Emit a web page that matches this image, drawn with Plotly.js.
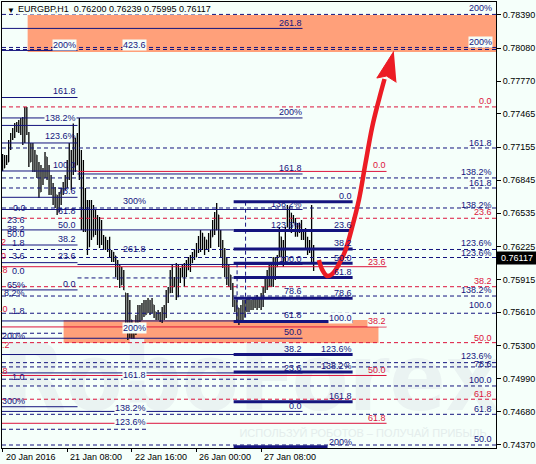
<!DOCTYPE html>
<html><head><meta charset="utf-8">
<script src="https://cdn.plot.ly/plotly-3.0.1.min.js"></script>
<style>html,body{margin:0;padding:0;background:#F5FFFA;}#chart{width:536px;height:464px;}</style>
</head><body><div id="chart"></div>
<script>
// ---- price bars (EURGBP H1) ----
const highs = [0.77090,0.77081,0.77081,0.77221,0.77287,0.77333,0.77380,0.77390,0.77408,0.77427,
 0.77436,0.77530,0.77530,0.77296,0.77193,0.77193,0.77128,0.77081,0.77015,0.76987,
 0.76959,0.77109,0.77062,0.76987,0.76894,0.76819,0.76782,0.76707,0.76735,0.76772,
 0.76828,0.76894,0.77034,0.77193,0.77128,0.77380,0.77240,0.77287,0.77427,0.77128,
 0.77034,0.76772,0.76660,0.76660,0.76660,0.76613,0.76567,0.76520,0.76501,0.76473,
 0.76333,0.76315,0.76286,0.76315,0.76193,0.76174,0.76137,0.76099,0.76052,0.76034,
 0.76006,0.75791,0.75791,0.75725,0.75538,0.75510,0.75585,0.75679,0.75679,0.75697,
 0.75725,0.75725,0.75744,0.75725,0.75744,0.75679,0.75613,0.75632,0.75613,0.75660,
 0.75679,0.75819,0.75847,0.76006,0.76052,0.75940,0.76071,0.76052,0.76024,0.76052,
 0.76071,0.76099,0.76127,0.76146,0.76174,0.76193,0.76258,0.76324,0.76380,0.76352,
 0.76315,0.76286,0.76352,0.76380,0.76473,0.76548,0.76632,0.76520,0.76380,0.76286,
 0.76212,0.76127,0.76052,0.75959,0.75884,0.75725,0.75725,0.75650,0.75679,0.75725,
 0.75725,0.75744,0.75744,0.75725,0.75753,0.75744,0.75772,0.75753,0.75791,0.75847,
 0.75940,0.76006,0.76052,0.76071,0.76127,0.76127,0.76146,0.76408,0.76315,0.76286,
 0.76408,0.76613,0.76595,0.76539,0.76520,0.76492,0.76445,0.76445,0.76473,0.76380,
 0.76399,0.76315,0.76286,0.76613,0.76239];
const lows = [0.76931,0.76959,0.76987,0.77015,0.77128,0.77221,0.77240,0.77296,0.77287,0.77268,
 0.77174,0.77193,0.77268,0.76969,0.77015,0.76922,0.76922,0.76866,0.76679,0.76735,
 0.76800,0.76866,0.76847,0.76707,0.76707,0.76613,0.76585,0.76520,0.76548,0.76613,
 0.76707,0.76754,0.76772,0.76847,0.76754,0.76894,0.76922,0.76987,0.76847,0.76380,
 0.76361,0.76361,0.76146,0.76221,0.76286,0.76315,0.76333,0.76240,0.76212,0.76240,
 0.76193,0.76193,0.76174,0.76127,0.76081,0.76081,0.75940,0.75912,0.75837,0.75866,
 0.75819,0.75510,0.75351,0.75370,0.75304,0.75239,0.75398,0.75491,0.75519,0.75538,
 0.75566,0.75585,0.75604,0.75585,0.75604,0.75557,0.75538,0.75538,0.75519,0.75510,
 0.75538,0.75557,0.75697,0.75791,0.75791,0.75847,0.75725,0.75753,0.75884,0.75940,
 0.75847,0.75940,0.76006,0.75987,0.76071,0.76099,0.76127,0.76165,0.76174,0.76193,
 0.76146,0.76193,0.76174,0.76212,0.76315,0.76333,0.76380,0.76221,0.76118,0.76024,
 0.75940,0.75866,0.75847,0.75819,0.75660,0.75613,0.75510,0.75491,0.75519,0.75519,
 0.75566,0.75613,0.75613,0.75632,0.75632,0.75650,0.75632,0.75650,0.75632,0.75660,
 0.75791,0.75819,0.75847,0.75847,0.75847,0.75912,0.76034,0.76127,0.76127,0.76034,
 0.76071,0.76408,0.76380,0.76352,0.76445,0.76315,0.76315,0.76352,0.76286,0.76286,
 0.76193,0.76146,0.76165,0.76081,0.75995];
const closes = [0.76950,0.77000,0.77010,0.77200,0.77270,0.77320,0.77370,0.77300,0.77400,0.77300,
 0.77420,0.77500,0.77290,0.77000,0.77150,0.76950,0.77080,0.76900,0.76700,0.76950,
 0.76820,0.77080,0.76880,0.76720,0.76800,0.76650,0.76750,0.76540,0.76700,0.76760,
 0.76800,0.76780,0.77000,0.76900,0.77100,0.77240,0.76950,0.77250,0.76870,0.76400,
 0.76700,0.76380,0.76200,0.76600,0.76300,0.76550,0.76350,0.76450,0.76250,0.76300,
 0.76220,0.76280,0.76200,0.76150,0.76170,0.76150,0.75960,0.76050,0.75850,0.76000,
 0.75820,0.75700,0.75400,0.75600,0.75320,0.75450,0.75550,0.75650,0.75540,0.75680,
 0.75580,0.75600,0.75720,0.75600,0.75680,0.75620,0.75560,0.75600,0.75550,0.75650,
 0.75560,0.75800,0.75720,0.75950,0.75800,0.75900,0.75750,0.76000,0.75900,0.75950,
 0.76050,0.75960,0.76100,0.76050,0.76150,0.76120,0.76250,0.76180,0.76350,0.76200,
 0.76300,0.76210,0.76340,0.76250,0.76450,0.76350,0.76600,0.76250,0.76150,0.76050,
 0.75970,0.75900,0.76000,0.75840,0.75700,0.75650,0.75700,0.75520,0.75650,0.75550,
 0.75700,0.75630,0.75720,0.75650,0.75740,0.75680,0.75750,0.75670,0.75780,0.75840,
 0.75930,0.75850,0.76040,0.75880,0.76100,0.75950,0.76120,0.76380,0.76150,0.76260,
 0.76400,0.76450,0.76560,0.76400,0.76480,0.76330,0.76420,0.76370,0.76300,0.76360,
 0.76220,0.76280,0.76180,0.76200,0.76117];
const firstOpen = 0.77050;

// ---- axes ----
const yTickVals = [0.78390,0.78080,0.77770,0.77465,0.77155,0.76845,0.76535,0.76225,0.75915,0.75610,0.75300,0.74990,0.74680,0.74370];
const xTickIdx = [0,32,64,96,128];
const xTickText = ['20 Jan 2016','21 Jan 08:00','22 Jan 16:00','26 Jan 00:00','27 Jan 08:00'];
const XMIN = -0.3, XMAX = 244.3, YMIN = 0.74341, YMAX = 0.78511;
const lastPrice = 0.76117;
const titleText = 'EURGBP,H1\u00A0\u00A00.76200\u00A00.76239\u00A00.75995\u00A00.76117';

// ---- Fibonacci levels (price, start bar, end bar, kind) ----
const F0 = XMIN, F1 = XMAX;
const levelPrice = [0.78395,0.78264,0.78086,0.78067,0.78058,0.77618,0.77530,0.77427,0.77357,0.77193,
 0.77146,0.76931,0.76927,0.76903,0.76866,0.76772,0.76685,0.76644,0.76585,0.76571,
 0.76489,0.76380,0.76375,0.76239,0.76197,0.76202,0.76122,0.76074,0.76057,0.76068,
 0.76036,0.75931,0.75935,0.75849,0.75819,0.75762,0.75741,0.75601,0.75529,0.75524,
 0.75473,0.75414,0.75367,0.75326,0.75215,0.75215,0.75139,0.75099,0.75052,0.75043,
 0.75019,0.74984,0.74921,0.74797,0.74774,0.74727,0.74683,0.74656,0.74572,0.74516,
 0.74369,0.74353];
const levelFrom = [F0,F0,F0,F0,F0,F0,F0,F0,F0,F0,
 F0,F0,37.1,37.1,F0,F0,F0,114.4,F0,F0,
 F0,F0,114.4,F0,F0,114.4,F0,F0,37.1,114.4,
 F0,37.1,114.4,F0,F0,F0,114.4,F0,F0,114.4,
 F0,F0,F0,F0,F0,114.4,F0,F0,114.4,F0,
 F0,F0,F0,F0,114.4,F0,F0,F0,F0,F0,
 F0,114.4];
const levelTo = [F1,148.5,F1,F1,37.1,37.1,F1,148.5,37.1,37.1,
 F1,37.1,190.1,148.5,F1,F1,37.1,173.3,F1,148.5,
 F1,114.4,173.3,37.1,F1,173.3,F1,37.1,148.5,173.3,
 190.1,114.4,173.3,F1,37.1,F1,173.3,F1,148.5,173.3,
 190.1,30.2,148.5,F1,148.5,173.3,F1,F1,173.3,148.5,
 190.1,127.7,F1,F1,173.3,37.1,148.5,F1,190.1,71.3,
 F1,160.9];
const levelKind = ['nd','ns','nd','nd','ns','ns','rd','ns','ns','ns',
 'nd','ns','rs','ns','nd','nd','ns','nt','nd','ns',
 'rd','ns','nt','ns','nd','nt','nd','ns','ns','nt',
 'rs','nd','nt','rd','ns','nd','nt','nd','ns','nt',
 'rs','nd','ns','rd','ns','nt','nd','nd','nt','ns',
 'rs','nd','nd','rd','nt','ns','ns','nd','rs','nd',
 'nd','nt'];
const vLineX = [120.3,116.1];
const vLineTop = [0.76644,0.76068];
const vLineBottom = [0.75524,0.75524];

// ---- zones ----
const zoneX0 = [12.4,30.2], zoneX1 = [XMAX,186.1];
const zoneY0 = [0.78044,0.75323], zoneY1 = [0.78390,0.75538];

// ---- forecast arrow ----
const fcX = [156.6,158.3,160.7,163.2,166.3,169.8,173.1,176.4,179.7,183.0,186.3,189.1];
const fcY = [0.76099,0.76006,0.75949,0.75968,0.76052,0.76193,0.76408,0.76660,0.77006,0.77343,0.77595,0.77791];
const headX = [193.7,185.3,190.1,195.0];
const headY = [0.78050,0.77800,0.77819,0.77760];

// ---- level labels ----
const lblText = ['200%','261.8','200%','200%','423.6','0.0','161.8','138.2%','200%','123.6%',
 '161.8','100.0','0.0','161.8','138.2%','161.8','78.6','0.0','300%','138.2%',
 '138.2%','0.0','61.8','23.6','23.6','50.0','23.6','123.6%','38.2','50.0',
 '38.2','2','1.8','38.2','123.6%','261.8','23.6','123.6%','0','3.6',
 '100.0','50.0','23.6','.8','0.0','61.8','38.2','0.0','65%','8.2%',
 '138.2%','78.6','78.6','100.0','.0','1.8','61.8','100.0','38.2','200%',
 '200%','50.0','50.0','.2','38.2','123.6%','123.6%','78.6','23.6','138.2%',
 '50.0','161.8','.8','1.0','100.0','61.8','161.8','300%','0.0','138.2%',
 '61.8','61.8','123.6%','50.0','200%'];
const lblX = [242.6,148.5,242.6,36.6,71.3,242.6,36.6,36.6,148.5,36.6,
 242.6,36.6,190.1,148.5,242.6,242.6,36.6,173.3,71.3,148.5,
 242.6,11.9,36.6,242.6,11.4,36.6,173.3,148.5,11.4,11.4,
 36.6,2.0,11.4,173.3,242.6,71.3,36.6,242.6,2.0,11.4,
 148.5,173.3,190.1,3.0,11.4,173.3,242.6,36.6,11.4,11.4,
 242.6,148.5,173.3,242.6,3.0,11.4,148.5,173.3,190.1,71.3,
 11.4,148.5,242.6,4.0,148.5,173.3,242.6,242.6,148.5,173.3,
 190.1,71.3,3.0,11.4,242.6,242.6,173.3,11.4,148.5,71.3,
 242.6,190.1,71.3,242.6,173.3];
const lblY = [0.78455,0.78315,0.78137,0.78109,0.78109,0.77586,0.77679,0.77427,0.77483,0.77258,
 0.77193,0.76987,0.76987,0.76959,0.76922,0.76819,0.76744,0.76697,0.76651,0.76623,
 0.76613,0.76585,0.76557,0.76548,0.76473,0.76427,0.76427,0.76427,0.76389,0.76342,
 0.76295,0.76267,0.76258,0.76258,0.76258,0.76202,0.76137,0.76165,0.76137,0.76137,
 0.76108,0.76118,0.76081,0.76006,0.75996,0.75987,0.75903,0.75875,0.75866,0.75791,
 0.75819,0.75809,0.75791,0.75679,0.75641,0.75622,0.75585,0.75557,0.75529,0.75463,
 0.75388,0.75426,0.75370,0.75304,0.75267,0.75267,0.75201,0.75127,0.75089,0.75108,
 0.75071,0.75024,0.75061,0.75005,0.74977,0.74846,0.74827,0.74781,0.74734,0.74715,
 0.74706,0.74622,0.74584,0.74426,0.74398];
const lblRed = [0,0,0,0,0,1,0,0,0,0, 0,0,1,0,0,0,0,0,0,0, 0,0,0,1,0,0,0,0,0,0,
 0,1,0,0,0,0,0,0,1,0, 0,0,1,1,0,0,1,0,0,0, 0,0,0,0,1,0,0,0,1,0,
 0,0,1,1,0,0,0,0,0,0, 1,0,1,0,0,1,0,0,0,0, 0,1,0,0,0];
const lblBox = [0,0,1,1,1,0,0,1,0,0, 0,0,0,0,0,0,0,0,0,0, 0,0,0,0,0,0,0,0,0,0,
 0,0,0,0,0,0,0,0,0,0, 0,0,0,0,0,0,0,0,0,0, 0,0,0,0,0,0,0,1,1,1,
 0,0,0,0,0,0,0,0,0,0, 0,1,0,0,0,0,0,0,0,1, 0,0,1,0,0];

// ---- styling ----
const BG = '#F5FFFA', NAVY = '#14147E', RED = '#DC143C', ARROW = '#EC1C24', SALMON = '#FFA07A';
const FONT = 'Liberation Sans, Arial, sans-serif';
const kindStyle = {
  nd:{color:NAVY,width:1,dash:'4px,3px'}, ns:{color:NAVY,width:1,dash:'solid'},
  nt:{color:NAVY,width:3,dash:'solid'}, rd:{color:RED,width:1,dash:'4px,3px'},
  rs:{color:RED,width:1,dash:'solid'}
};

const idx = highs.map((_, i) => i);
const opens = closes.map((c, i) => {
  const prev = i === 0 ? firstOpen : closes[i - 1];
  return Math.min(highs[i], Math.max(lows[i], prev));
});

const traces = [];
traces.push({type:'ohlc', x:idx, open:opens, high:highs, low:lows, close:closes,
  increasing:{line:{color:'#000000', width:1.3}}, decreasing:{line:{color:'#000000', width:1.3}},
  tickwidth:0.3, hoverinfo:'skip', showlegend:false});
traces.push({type:'scatter', mode:'text', x:[122.8], y:[0.74912], text:['RoboForex'],
  textfont:{family:'DejaVu Sans Condensed, Liberation Sans, sans-serif', size:92, color:'#EAF3F2', weight:700},
  hoverinfo:'skip', showlegend:false, cliponaxis:false});
traces.push({type:'scatter', mode:'text', x:[178.5], y:[0.74472], text:['ИСПОЛЬЗУЙ РОБОТОВ – ПОЛУЧАЙ ПРИБЫЛЬ'],
  textfont:{family:FONT, size:11, color:'#E4EDEC'}, hoverinfo:'skip', showlegend:false});
levelPrice.forEach((p, i) => {
  const s = kindStyle[levelKind[i]];
  traces.push({type:'scatter', mode:'lines', x:[levelFrom[i], levelTo[i]], y:[p, p],
    line:{color:s.color, width:s.width, dash:s.dash}, hoverinfo:'skip', showlegend:false});
});
vLineX.forEach((x, i) => {
  traces.push({type:'scatter', mode:'lines', x:[x, x], y:[vLineTop[i], vLineBottom[i]],
    line:{color:NAVY, width:1, dash:'4px,3px'}, hoverinfo:'skip', showlegend:false});
});
traces.push({type:'scatter', mode:'lines', x:fcX, y:fcY,
  line:{color:ARROW, width:4.5, shape:'spline', smoothing:1}, hoverinfo:'skip', showlegend:false});
traces.push({type:'scatter', mode:'lines', x:headX, y:headY, fill:'toself', fillcolor:ARROW,
  line:{color:ARROW, width:1}, hoverinfo:'skip', showlegend:false});

const shapes = zoneX0.map((x0, i) => ({type:'rect', layer:'below', xref:'x', yref:'y',
  x0:x0, x1:zoneX1[i], y0:zoneY0[i], y1:zoneY1[i], fillcolor:SALMON, line:{width:0}}));

const annotations = [];
lblText.forEach((t, i) => {
  annotations.push({xref:'x', yref:'y', x:lblX[i], y:lblY[i], text:t, showarrow:false,
    xanchor:'right', yanchor:'middle', font:{family:FONT, size:9, color: lblRed[i] ? RED : NAVY},
    bgcolor: lblBox[i] ? BG : 'rgba(0,0,0,0)', borderpad:0});
});
xTickIdx.forEach((x, i) => {
  annotations.push({xref:'x', yref:'paper', x:x, y:0, text:xTickText[i], showarrow:false,
    xanchor:'left', yanchor:'top', xshift:1, yshift:-2, font:{family:FONT, size:9, color:'#000000'}});
});
annotations.push({xref:'paper', yref:'paper', x:0, y:1, text:'▼', showarrow:false,
  xanchor:'left', yanchor:'top', xshift:3, yshift:-2, font:{family:FONT, size:8, color:'#000000'}});
annotations.push({xref:'paper', yref:'paper', x:0, y:1, text:titleText, showarrow:false,
  xanchor:'left', yanchor:'top', xshift:15, yshift:-1, font:{family:FONT, size:9, color:'#000000'},
  bgcolor:BG, borderpad:0});
annotations.push({xref:'paper', yref:'y', x:1, y:lastPrice, text:lastPrice.toFixed(5), showarrow:false,
  xanchor:'left', yanchor:'middle', bgcolor:'#000000', borderpad:1, width:38,
  font:{family:FONT, size:9, color:'#FFFFFF'}});

const layout = {
  width:536, height:464, paper_bgcolor:BG, plot_bgcolor:BG,
  margin:{l:2, r:40, t:2, b:16}, showlegend:false, dragmode:false,
  xaxis:{range:[XMIN, XMAX], rangeslider:{visible:false}, showgrid:false, zeroline:false,
    tickvals:xTickIdx, ticktext:xTickIdx.map(() => ''), ticks:'outside', ticklen:3, tickcolor:'#000000',
    showline:true, linecolor:'#000000', linewidth:1, mirror:true, fixedrange:true},
  yaxis:{range:[YMIN, YMAX], side:'right', showgrid:false, zeroline:false,
    tickvals:yTickVals, ticktext:yTickVals.map(v => v.toFixed(5)), ticks:'outside', ticklen:4,
    tickcolor:'#000000', tickfont:{family:FONT, size:9, color:'#000000'},
    showline:true, linecolor:'#000000', linewidth:1, mirror:true, fixedrange:true},
  shapes:shapes, annotations:annotations
};
Plotly.newPlot('chart', traces, layout, {displayModeBar:false, staticPlot:true});
</script>
</body></html>
